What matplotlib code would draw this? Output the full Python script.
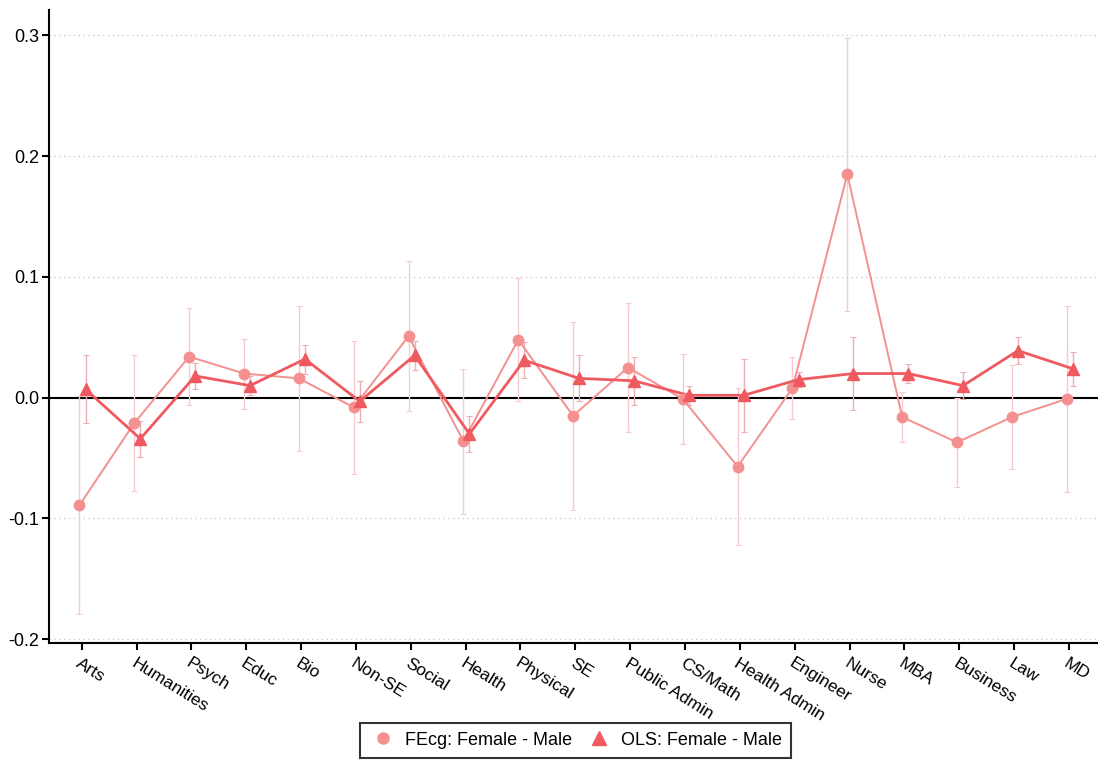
import matplotlib
matplotlib.use("Agg")
import matplotlib.pyplot as plt
import matplotlib.transforms as mtransforms
import numpy as np
from matplotlib.lines import Line2D

plt.rcParams['font.family'] = ['Liberation Sans', 'DejaVu Sans']

categories = ["Arts", "Humanities", "Psych", "Educ", "Bio", "Non-SE", "Social", "Health",
              "Physical", "SE", "Public Admin", "CS/Math", "Health Admin", "Engineer",
              "Nurse", "MBA", "Business", "Law", "MD"]

fecg_est = [-0.089, -0.021, 0.034, 0.020, 0.016, -0.008, 0.051, -0.036, 0.048, -0.015,
            0.025, -0.001, -0.057, 0.008, 0.185, -0.016, -0.037, -0.016, -0.001]
fecg_ci = [0.090, 0.056, 0.040, 0.029, 0.060, 0.055, 0.062, 0.060, 0.051, 0.078,
           0.053, 0.037, 0.065, 0.026, 0.113, 0.021, 0.037, 0.043, 0.077]

ols_est = [0.007, -0.034, 0.018, 0.010, 0.032, -0.003, 0.035, -0.030, 0.031, 0.016,
           0.014, 0.002, 0.002, 0.015, 0.020, 0.020, 0.010, 0.039, 0.024]
ols_ci = [0.028, 0.015, 0.011, 0.008, 0.012, 0.017, 0.012, 0.015, 0.015, 0.019,
          0.020, 0.008, 0.030, 0.006, 0.030, 0.008, 0.011, 0.011, 0.014]

yticks = [-0.2, -0.1, 0.0, 0.1, 0.2, 0.3]
legend_labels = ["FEcg: Female - Male", "OLS: Female - Male"]

fe_color = "#F4908F"
ols_color = "#EF5A60"
err_color = "#F5CBCF"

fig = plt.figure(figsize=(10.98, 7.61), dpi=100)
ax = fig.add_axes([0.0449, 0.1547, 0.9551, 0.8322])

x = np.arange(len(categories))
xf = x - 0.04
xo = x + 0.07

for yv in yticks:
    if yv != 0.0:
        ax.axhline(yv, color="#CCCCCC", lw=1.0, ls=(0, (1, 2.5)), zorder=0)
ax.axhline(0.0, color="black", lw=1.5, zorder=1)

ax.errorbar(xf, fecg_est, yerr=fecg_ci, fmt="none", ecolor=err_color, elinewidth=1.0,
            capsize=2.5, capthick=0.8, zorder=2)
ax.errorbar(xo, ols_est, yerr=ols_ci, fmt="none", ecolor="#EAB0B6", elinewidth=1.0,
            capsize=2.5, capthick=0.8, zorder=2)

ax.plot(xf, fecg_est, color=fe_color, lw=1.4, zorder=3)
ax.plot(xf, fecg_est, ls="none", marker="o", ms=7.5, color=fe_color, mec=fe_color, zorder=5)
ax.plot(xo, ols_est, color=ols_color, lw=2.0, zorder=4)
ax.plot(xo, ols_est, ls="none", marker="^", ms=9, color=ols_color, mec=ols_color, zorder=6)

ax.set_xlim(-0.59, 18.53)
ax.set_ylim(-0.2033, 0.321)
ax.set_yticks(yticks)
ax.set_yticklabels([f"{v:.1f}" for v in yticks], fontsize=13)
ax.set_xticks(x)
ax.set_xticklabels(categories, fontsize=12.5, rotation=-32, ha="left", va="top",
                   rotation_mode="anchor")
shift = mtransforms.ScaledTranslation(-5 / 100, 0, fig.dpi_scale_trans)
for lab in ax.get_xticklabels():
    lab.set_transform(lab.get_transform() + shift)
ax.tick_params(axis="x", length=5, width=1.5, pad=4)
ax.tick_params(axis="y", length=5, width=1.5, pad=2)

for s in ["top", "right"]:
    ax.spines[s].set_visible(False)
for s in ["left", "bottom"]:
    ax.spines[s].set_linewidth(1.5)
    ax.spines[s].set_color("black")

handles = [Line2D([], [], ls="none", marker="o", ms=8, color=fe_color),
           Line2D([], [], ls="none", marker="^", ms=10, color=ols_color)]
leg = fig.legend(handles, legend_labels, loc="upper center", bbox_to_anchor=(0.5237, 0.0503),
                 ncol=2, fontsize=13, frameon=True, fancybox=False, edgecolor="black",
                 handletextpad=0.4, columnspacing=0.7, borderpad=0.5, handlelength=1.6,
                 borderaxespad=0.0)
leg.get_frame().set_linewidth(1.5)

fig.savefig("out.png", dpi=100)
